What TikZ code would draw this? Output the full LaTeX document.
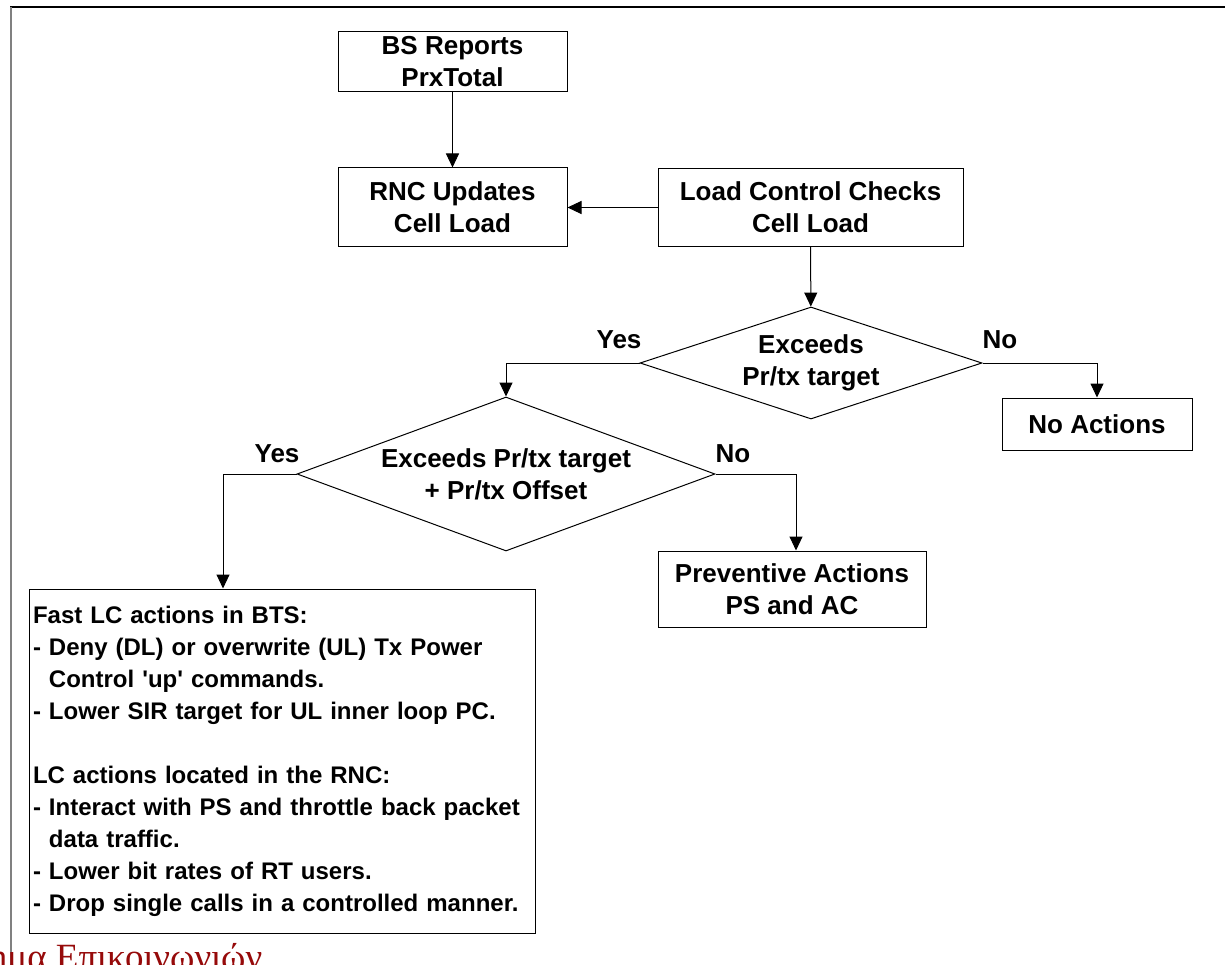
\documentclass[tikz,border=0pt]{standalone}
\usepackage{fontspec}
\setmainfont{Liberation Sans}
\newfontfamily\greekserif{Liberation Serif}
\usetikzlibrary{shapes.geometric, arrows.meta}

\definecolor{footred}{RGB}{150,10,10}
\definecolor{framegray}{RGB}{128,128,128}

\begin{document}
\begin{tikzpicture}[x=1pt, y=-1pt,
  boxfont/.style={font=\fontsize{26}{32}\selectfont\bfseries},
  box/.style={boxfont, draw, line width=1pt, rectangle, inner sep=0pt, align=center},
  decision/.style={boxfont, draw, line width=1pt, diamond, inner sep=0pt, align=center},
  flow/.style={line width=1pt, -{Triangle[length=14pt,width=13pt]}},
  lbl/.style={boxfont, anchor=base, inner sep=0pt},
]
\useasboundingbox (0,0) rectangle (1225,965);

% page frame
\draw[line width=2pt] (10,7) -- (1225,7);
\draw[framegray, line width=2pt] (11,7) -- (11,965);

% process boxes
\node[box, minimum width=229pt, minimum height=60pt] (bs) at (452.5,62) {BS Reports\\PrxTotal};
\node[box, minimum width=229pt, minimum height=79pt] (rnc) at (452.5,207.5) {RNC Updates\\Cell Load};
\node[box, minimum width=305pt, minimum height=78pt] (lcc) at (810.5,207.5) {Load Control Checks\\Cell Load};
\node[decision, minimum width=342pt, minimum height=112pt, shape aspect=3] (d1) at (811,363) {Exceeds\\Pr/tx target};
\node[box, minimum width=190pt, minimum height=52pt] (none) at (1097,424) {No Actions};
\node[decision, minimum width=418pt, minimum height=154pt, shape aspect=2.7] (d2) at (506,474) {Exceeds Pr/tx target\\+ Pr/tx Offset};
\node[box, minimum width=268pt, minimum height=76pt] (prev) at (792,589) {Preventive Actions\\PS and AC};
\node[draw, line width=1pt, rectangle, inner xsep=4pt, inner ysep=0pt,
      font=\fontsize{24}{32}\selectfont\bfseries, align=left,
      text width=498pt, minimum height=344pt] (lc) at (282,761)
  {Fast LC actions in BTS:\\
   - Deny (DL) or overwrite (UL) Tx Power\\
   \hphantom{- }Control \textquotesingle up\textquotesingle{} commands.\\
   - Lower SIR target for UL inner loop PC.\\[32pt]
   LC actions located in the RNC:\\
   - Interact with PS and throttle back packet\\
   \hphantom{- }data traffic.\\
   - Lower bit rates of RT users.\\
   - Drop single calls in a controlled manner.};

% connectors
\draw[flow] (bs) -- (rnc);
\draw[flow] (lcc) -- (rnc);
\draw[flow] (lcc) -- (d1);
\draw[flow] (d1.west) -| (d2.north);
\draw[flow] (d1.east) -| (none.north);
\draw[flow] (d2.west) -| ([xshift=-59pt]lc.north);
\draw[flow] (d2.east) -| ([xshift=4pt]prev.north);

% branch labels
\node[lbl] (y1) at (619,348) {Yes};
\node[lbl] (n1) at (1000,348) {No};
\node[lbl] (y2) at (277,462) {Yes};
\node[lbl] (n2) at (733,462) {No};

% footer text running off the page edge
\node[font=\greekserif\fontsize{37}{40}\selectfont, text=footred, anchor=base west, inner sep=0pt] (footer) at (-27,969) {τημα Επικοινωνιών};
\end{tikzpicture}
\end{document}
